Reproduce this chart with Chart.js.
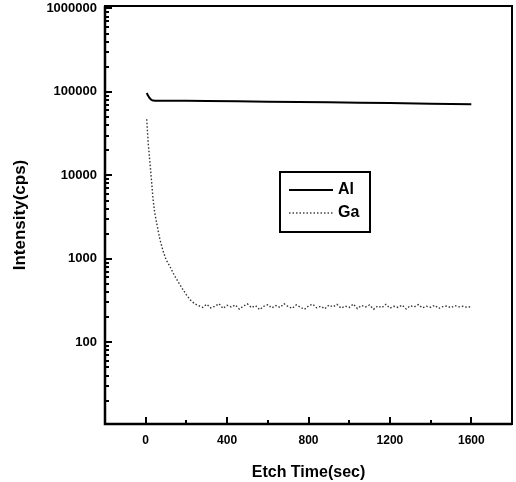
<!DOCTYPE html>
<html>
<head>
<meta charset="utf-8">
<script src="https://cdn.jsdelivr.net/npm/chart.js@4.4.1/dist/chart.umd.min.js"></script>
<style>
  html, body { margin: 0; padding: 0; background: #fff; }
  #wrap { width: 516px; height: 482px; }
</style>
</head>
<body>
<div id="wrap"><canvas id="depthChart" width="516" height="482"></canvas></div>
<script>
// Depth profile data (time in sec, intensity in cps)
const alTimes = [5, 10, 20, 35, 100, 300, 600, 900, 1200, 1600];
const alValues = [97000, 92000, 84000, 79000, 78500, 78000, 76500, 75000, 73500, 71000];

const gaTimes = [5, 12, 20, 28, 36, 44, 55, 70, 85, 100, 120, 140, 160, 180, 200, 220, 240,
  260, 280, 300, 320, 340, 360, 380, 400, 420, 440, 460, 480, 500, 520, 540, 560, 580, 600,
  620, 640, 660, 680, 700, 720, 740, 760, 780, 800, 820, 840, 860, 880, 900, 920, 940, 960,
  980, 1000, 1020, 1040, 1060, 1080, 1100, 1120, 1140, 1160, 1180, 1200, 1220, 1240, 1260,
  1280, 1300, 1320, 1340, 1360, 1380, 1400, 1420, 1440, 1460, 1480, 1500, 1520, 1540, 1560,
  1580, 1600];
const gaValues = [47000, 25000, 15000, 9000, 5200, 3600, 2600, 1700, 1250, 980, 800, 640, 530, 440, 370, 320, 290,
  275, 262, 285, 258, 270, 290, 255, 278, 265, 280, 250, 272, 288, 260, 275, 246, 270, 282,
  258, 276, 262, 290, 268, 255, 281, 264, 248, 273, 286, 259, 270, 252, 279, 266, 284, 257,
  271, 262, 288, 254, 276, 265, 280, 249, 272, 260, 285, 256, 270, 262, 279,
  251, 274, 266, 283, 258, 270, 263, 277, 255, 268, 272, 260, 275, 266, 270,
  262, 268];

const xTicks = [0, 400, 800, 1200, 1600];
const xMinorTicks = [200, 600, 1000, 1400];
const yTicks = [100, 1000, 10000, 100000, 1000000];

const FONT = "'Liberation Sans', Arial, sans-serif";

function toPoints(xs, ys) {
  return xs.map((x, i) => ({ x: x, y: ys[i] }));
}

// frame, inward ticks and the boxed legend
const framePlugin = {
  id: "frame",
  afterDraw(chart) {
    const ctx = chart.ctx;
    const a = chart.chartArea;
    const xs = chart.scales.x;
    const ys = chart.scales.y;
    ctx.save();
    ctx.strokeStyle = "#000";

    // box
    ctx.lineWidth = 2;
    ctx.strokeRect(a.left, a.top, a.right - a.left, a.bottom - a.top);
    ctx.lineWidth = 2.5;
    ctx.beginPath();
    ctx.moveTo(a.left, a.top);
    ctx.lineTo(a.left, a.bottom);
    ctx.lineTo(a.right, a.bottom);
    ctx.stroke();

    // x ticks pointing up
    ctx.lineWidth = 2;
    xTicks.forEach(v => {
      const px = Math.round(xs.getPixelForValue(v));
      ctx.beginPath();
      ctx.moveTo(px, a.bottom);
      ctx.lineTo(px, a.bottom - 7);
      ctx.stroke();
    });
    xMinorTicks.forEach(v => {
      const px = Math.round(xs.getPixelForValue(v));
      ctx.beginPath();
      ctx.moveTo(px, a.bottom);
      ctx.lineTo(px, a.bottom - 4);
      ctx.stroke();
    });

    // y ticks pointing right, with minor ticks for each decade
    const decades = [10, 100, 1000, 10000, 100000];
    decades.forEach(d => {
      for (let m = 2; m <= 9; m++) {
        const py = Math.round(ys.getPixelForValue(d * m));
        ctx.beginPath();
        ctx.moveTo(a.left, py);
        ctx.lineTo(a.left + 4, py);
        ctx.stroke();
      }
    });
    yTicks.forEach(v => {
      const py = Math.round(ys.getPixelForValue(v));
      ctx.beginPath();
      ctx.moveTo(a.left, py);
      ctx.lineTo(a.left + 7, py);
      ctx.stroke();
    });

    // legend box
    const bx = a.left + 175, by = a.top + 166, bw = 90, bh = 60;
    ctx.lineWidth = 2;
    ctx.strokeRect(bx, by, bw, bh);
    ctx.lineWidth = 1.8;
    ctx.beginPath();
    ctx.moveTo(bx + 9, by + 18);
    ctx.lineTo(bx + 53, by + 18);
    ctx.stroke();
    ctx.lineWidth = 1.3;
    ctx.strokeStyle = "#444";
    ctx.setLineDash([1.5, 2]);
    ctx.beginPath();
    ctx.moveTo(bx + 9, by + 41);
    ctx.lineTo(bx + 53, by + 41);
    ctx.stroke();
    ctx.setLineDash([]);
    ctx.fillStyle = "#000";
    ctx.font = "bold 16px " + FONT;
    ctx.textBaseline = "middle";
    ctx.textAlign = "left";
    ctx.fillText("Al", bx + 58, by + 18);
    ctx.fillText("Ga", bx + 58, by + 41);
    ctx.restore();
  }
};

const ctx = document.getElementById("depthChart").getContext("2d");

new Chart(ctx, {
  type: "line",
  data: {
    datasets: [
      {
        label: "Al",
        data: toPoints(alTimes, alValues),
        borderColor: "#000",
        borderWidth: 2,
        pointRadius: 0,
        tension: 0.2,
        fill: false
      },
      {
        label: "Ga",
        data: toPoints(gaTimes, gaValues),
        borderColor: "#333",
        borderWidth: 1.4,
        borderDash: [1.5, 2],
        pointRadius: 0,
        tension: 0,
        fill: false
      }
    ]
  },
  options: {
    responsive: false,
    animation: false,
    layout: { padding: { top: 6, right: 4, left: 0, bottom: 0 } },
    plugins: {
      legend: { display: false },
      tooltip: { enabled: false }
    },
    scales: {
      x: {
        type: "linear",
        min: -200,
        max: 1800,
        afterBuildTicks: scale => { scale.ticks = xTicks.map(v => ({ value: v })); },
        afterFit: scale => { scale.height = 58; scale.paddingLeft = 0; scale.paddingRight = 0; },
        grid: { display: false, drawTicks: false },
        border: { display: false },
        ticks: {
          padding: 9,
          color: "#000",
          font: { family: FONT, size: 12, weight: "bold" },
          callback: v => String(v)
        },
        title: {
          display: true,
          text: "Etch Time(sec)",
          color: "#000",
          padding: { top: 4, bottom: 0 },
          font: { family: FONT, size: 16, weight: "bold" }
        }
      },
      y: {
        type: "logarithmic",
        min: 10.5,
        max: 1070000,
        afterBuildTicks: scale => { scale.ticks = yTicks.map(v => ({ value: v })); },
        afterFit: scale => { scale.width = 105; scale.paddingTop = 0; scale.paddingBottom = 0; },
        grid: { display: false, drawTicks: false },
        border: { display: false },
        ticks: {
          padding: 8,
          color: "#000",
          font: { family: FONT, size: 13, weight: "bold" },
          callback: v => String(v)
        },
        title: {
          display: true,
          text: "Intensity(cps)",
          color: "#000",
          padding: { top: 10, bottom: 0 },
          font: { family: FONT, size: 17, weight: "bold" }
        }
      }
    }
  },
  plugins: [framePlugin]
});
</script>
</body>
</html>
